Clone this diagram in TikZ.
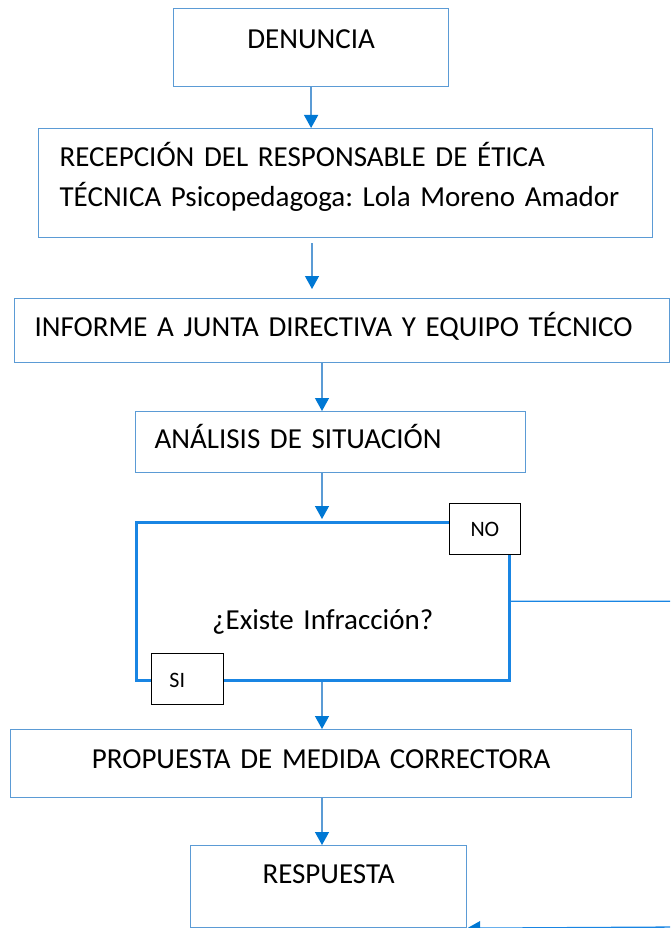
\documentclass[tikz,border=0pt]{standalone}
\usepackage{fontspec}
\setmainfont{Carlito}
\usepackage{tikz}
\usetikzlibrary{arrows.meta}
\definecolor{boxblue}{RGB}{91,155,213}
\definecolor{arrowblue}{RGB}{0,120,212}
\definecolor{decblue}{RGB}{25,133,227}
\frenchspacing
\newcommand\fuentecaja{\fontsize{29}{40}\selectfont\fontdimen2\font=5.1pt\relax} % 語間を狭く

\begin{document}
\begin{tikzpicture}[x=1pt, y=-1pt, inner sep=0pt, % 1px = 1pt、y軸は下向き
    caja/.style={draw=boxblue, line width=1.2pt, fill=white, anchor=north west, font=\fuentecaja},
    flecha/.style={draw=boxblue, line width=1.3pt, -{Triangle[width=14pt, length=13pt, color=arrowblue]}},
    etiqueta/.style={draw=black, line width=0.8pt, fill=white, anchor=north west, font=\fontsize{22}{25}\selectfont}]
    \useasboundingbox (0,0) rectangle (670,928); % 図の大きさ
    \clip (0,0) rectangle (670,928);

    \node[caja, text width=275pt, align=center, text height=40pt, text depth=38pt] (denuncia) at (173,8) {DENUNCIA};
    \node[caja, inner xsep=21pt, text width=572pt, align=left, text height=38pt, text depth=71pt] (recepcion) at (38,128)
      {RECEPCIÓN DEL RESPONSABLE DE ÉTICA\\TÉCNICA Psicopedagoga: Lola Moreno Amador}; % 2行
    \node[caja, inner xsep=20pt, text width=615pt, align=left, text height=38pt, text depth=26pt] (informe) at (14,298)
      {INFORME A JUNTA DIRECTIVA Y EQUIPO TÉCNICO};
    \node[caja, inner xsep=19pt, text width=352pt, align=left, text height=37pt, text depth=24pt] (analisis) at (135,411)
      {ANÁLISIS DE SITUACIÓN};
    \node[caja, draw=decblue, line width=2.5pt, text width=373pt, align=center, text height=107pt, text depth=51pt] (decision) at (135,521)
      {¿Existe Infracción?}; % 判定
    \node[etiqueta, text width=71pt, align=center, text height=33pt, text depth=18pt] (no) at (449,503) {NO};
    \node[etiqueta, inner xsep=18.5pt, text width=35.5pt, align=left, text height=34pt, text depth=17pt] (si) at (150.5,653) {SI};
    \node[caja, text width=621pt, align=center, text height=39pt, text depth=29pt] (propuesta) at (10,729)
      {PROPUESTA DE MEDIDA CORRECTORA};
    \node[caja, text width=276pt, align=center, text height=38pt, text depth=44pt] (respuesta) at (190,845) {RESPUESTA};

    \coordinate (eje) at (322,0); % 矢印の縦線の位置
    \coordinate (eje2) at (312,0);
    \coordinate (esquina) at (680,927); % 右下の角、図の外
    \draw[flecha] (denuncia.south) -- (denuncia.south |- recepcion.north);
    \draw[flecha, shorten <=5pt, shorten >=9pt] (recepcion.south -| eje2) -- (informe.north -| eje2);
    \draw[flecha] (informe.south -| eje) -- (analisis.north -| eje);
    \draw[flecha, shorten >=2pt] (analisis.south -| eje) -- (decision.north -| eje);
    \draw[flecha] (decision.south -| eje) -- (propuesta.north -| eje);
    \draw[flecha] (propuesta.south -| eje) -- (respuesta.north -| eje);
    \draw[flecha, draw=decblue] (decision.east) -| (esquina) -- (respuesta.south east); % NOの場合
\end{tikzpicture}
\end{document}
